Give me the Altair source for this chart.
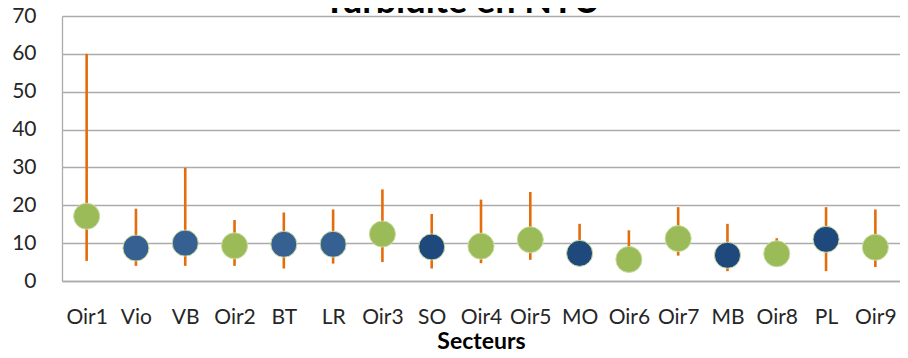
import altair as alt
import pandas as pd

sectors = ["Oir1", "Vio", "VB", "Oir2", "BT", "LR", "Oir3", "SO", "Oir4",
           "Oir5", "MO", "Oir6", "Oir7", "MB", "Oir8", "PL", "Oir9"]
means = [17.1, 8.7, 10.0, 9.3, 9.7, 9.7, 12.4, 9.0, 9.2,
         10.9, 7.3, 5.7, 11.2, 6.8, 7.2, 11.0, 8.9]
mins = [5.3, 4.0, 4.0, 4.0, 3.3, 4.6, 5.0, 3.3, 4.7,
        5.6, 4.0, 3.0, 6.7, 2.6, 4.0, 2.6, 3.7]
maxs = [60.0, 19.1, 29.9, 16.1, 18.1, 18.9, 24.2, 17.7, 21.5,
        23.5, 15.1, 13.4, 19.5, 15.1, 11.3, 19.5, 18.9]
groups = ["Oir", "Affluent", "Affluent", "Oir", "Affluent", "Affluent", "Oir", "Autre", "Oir",
          "Oir", "Autre", "Oir", "Oir", "Autre", "Oir", "Autre", "Oir"]

group_domain = ["Oir", "Affluent", "Autre"]
group_colors = ["#9BBB59", "#376092", "#1F497D"]

title_text = "Turbidité en NTU"

df = pd.DataFrame({"secteur": sectors, "moyenne": means, "min": mins,
                   "max": maxs, "groupe": groups})

FONT = "Lato"
GRID = "#ABABAB"

x = alt.X("secteur:N", sort=sectors,
          scale=alt.Scale(type="point", padding=0.5),
          axis=alt.Axis(title="Secteurs", labelAngle=0, ticks=False, tickSize=0,
                        labelFont=FONT, labelFontSize=21, labelColor="#262626",
                        labelBaseline="alphabetic", labelPadding=42,
                        labelOverlap=False,
                        titleFont=FONT, titleFontSize=23, titleFontWeight="bold",
                        titleColor="#000000", titleBaseline="alphabetic", titleY=67,
                        domainColor=GRID, domainWidth=1.3, grid=False))

y_axis = alt.Axis(values=list(range(0, 71, 10)), title=None, ticks=False, tickSize=0,
                  labelFont=FONT, labelFontSize=21, labelColor="#262626",
                  labelPadding=26, gridColor=GRID, gridWidth=1.3,
                  domainColor=GRID, domainWidth=1.3)

bars = alt.Chart(df).mark_rule(color="#E46C0A", strokeWidth=2.6).encode(
    x=x,
    y=alt.Y("min:Q", scale=alt.Scale(domain=[0, 70]), axis=y_axis),
    y2="max:Q",
)

points = alt.Chart(df).mark_circle(opacity=1, stroke="#C9DCA0", strokeWidth=1).encode(
    x=x,
    y=alt.Y("moyenne:Q", scale=alt.Scale(domain=[0, 70]), axis=y_axis),
    color=alt.Color("groupe:N", scale=alt.Scale(domain=group_domain, range=group_colors),
                    legend=None),
    size=alt.value(680),
)

title = alt.Chart(pd.DataFrame({"t": [title_text]})).mark_text(
    font=FONT, fontSize=36, fontWeight="bold", color="#000000",
    align="center", baseline="alphabetic",
).encode(x=alt.value(400), y=alt.value(-3), text="t:N")

chart = (bars + points + title).properties(
    width=838, height=265,
    padding={"left": 54, "top": 8, "right": 0, "bottom": 69},
    autosize=alt.AutoSizeParams(type="none"),
).configure_view(stroke=None).configure(background="white")

chart.save("out.html", embed_options={"renderer": "svg", "actions": False})
